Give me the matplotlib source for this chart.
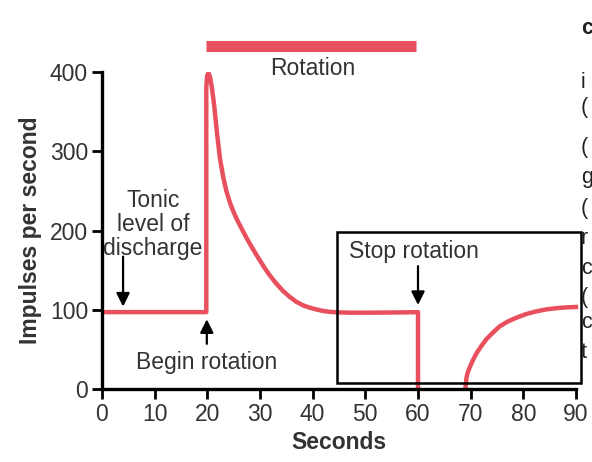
import matplotlib.pyplot as plt
from matplotlib.patches import Rectangle

plt.rcParams['font.family'] = ['Liberation Sans', 'DejaVu Sans']

# Firing rate during and after rotation
rot_sec = [0, 19.8, 19.8, 19.95, 20.2, 20.5, 20.8, 21.3, 21.8, 22.4, 23.0,
           23.6, 24.3, 25.0, 25.8, 26.7, 27.5, 28.4, 29.2, 30.0, 30.9, 31.9,
           33.1, 34.4, 35.6, 36.9, 38.2, 39.5, 40.8, 42.0, 43.2, 44.5, 47.1,
           50, 55, 60, 60]
rot_rate = [97, 97, 380, 395, 399, 394, 383, 358, 325, 291, 268,
            250, 235, 223, 211.5, 200, 190, 179.5, 170.5, 162, 152.5, 143,
            133, 123.5, 116.5, 110, 105.5, 102.5, 100.2, 98.5, 97.4, 96.8, 96.3,
            96.3, 96.5, 97, 0]
post_sec = [69.0, 69.2, 69.4, 69.8, 70.4, 71.1, 72.0, 73.0, 74.2, 75.5,
            77.0, 78.7, 80.5, 82.5, 84.4, 86.3, 88.2, 90]
post_rate = [1, 14, 20, 27, 36, 45, 54, 63, 71, 79,
             85, 90, 94.5, 98, 100.5, 102, 103, 103.5]

xticks = [0, 10, 20, 30, 40, 50, 60, 70, 80, 90]
yticks = [0, 100, 200, 300, 400]
rotation_span = (19.7, 59.7)
side_letters = ['c', 'i', '(', '(', 'g', '(', 'r', 'c', '(', 'c', 't']
side_y = [28, 82, 108, 148, 178, 209, 238, 268, 297, 323, 353]

red = '#E9505E'
ink = '#333333'
fs = 16.5

fig = plt.figure(figsize=(5.92, 4.62), dpi=100)
ax = fig.add_axes([102 / 592, 73 / 462, 474 / 592, 317 / 462])

ax.plot(rot_sec, rot_rate, color=red, lw=3.2, solid_joinstyle='round', zorder=3)
ax.plot(post_sec, post_rate, color=red, lw=3.2, solid_joinstyle='round',
        zorder=3, clip_on=False)

ax.set_xlim(0, 90)
ax.set_ylim(0, 400)
ax.set_xticks(xticks)
ax.set_yticks(yticks)
for s in ['top', 'right']:
    ax.spines[s].set_visible(False)
for s in ['left', 'bottom']:
    ax.spines[s].set_linewidth(2.4)
    ax.spines[s].set_zorder(4)
ax.tick_params(direction='out', length=7, width=2, labelsize=fs,
               labelcolor=ink, pad=3)
ax.set_xlabel('Seconds', fontsize=fs, fontweight='bold', color=ink, labelpad=4)
ax.set_ylabel('Impulses per second', fontsize=fs, fontweight='bold',
              color=ink, labelpad=6)

# rotation bar above the plot
ax.plot(rotation_span, [433, 433], color=red, lw=8, solid_capstyle='butt',
        clip_on=False)
ax.text(40, 405, 'Rotation', ha='center', va='center', fontsize=fs, color=ink)

arrow = dict(arrowstyle='-|>', color='black', lw=1.6, mutation_scale=20,
             shrinkA=0, shrinkB=0)

# annotations
ax.text(9.7, 208, 'Tonic\nlevel of\ndischarge', ha='center', va='center',
        fontsize=fs, color=ink, linespacing=1.05)
ax.annotate('', xy=(4.0, 104), xytext=(4.0, 167), arrowprops=arrow)
ax.text(19.9, 34, 'Begin rotation', ha='center', va='center', fontsize=fs,
        color=ink)
ax.annotate('', xy=(19.9, 88), xytext=(19.9, 57), arrowprops=arrow)
ax.text(59.3, 174, 'Stop rotation', ha='center', va='center', fontsize=fs,
        color=ink)
ax.annotate('', xy=(60.0, 106), xytext=(60.0, 155), arrowprops=arrow)

# highlight box
ax.add_patch(Rectangle((44.6, 7.6), 46.3, 190.4, fill=False, ec='black',
                       lw=1.8, clip_on=False, zorder=5))

# cut-off text from the page on the right
for i, (ch, yy) in enumerate(zip(side_letters, side_y)):
    fig.text(581 / 592, 1 - yy / 462, ch, ha='left', va='center',
             fontsize=15.5, color='#222222',
             fontweight='bold' if i == 0 else 'normal')

fig.savefig('out.png', dpi=100)
